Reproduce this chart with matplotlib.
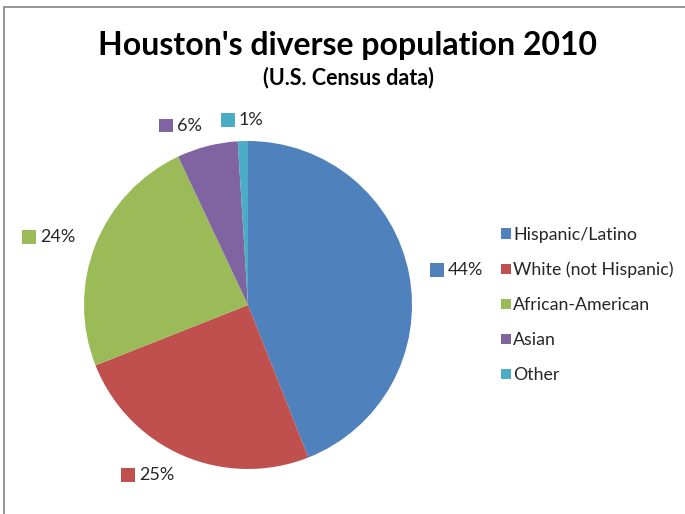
import numpy as np
import matplotlib
matplotlib.use("Agg")
import matplotlib.pyplot as plt
from matplotlib.patches import Patch, Rectangle
from matplotlib.offsetbox import AnnotationBbox, HPacker, TextArea, DrawingArea

plt.rcParams['font.family'] = ['Lato', 'DejaVu Sans']

groups = ["Hispanic/Latino", "White (not Hispanic)", "African-American", "Asian", "Other"]
shares = [44, 25, 24, 6, 1]
colors = ["#4F81BD", "#C0504D", "#9BBB59", "#8064A2", "#4BACC6"]

W, H = 685, 514
fig = plt.figure(figsize=(W / 100, H / 100), dpi=100)

# chart frame
fig.add_artist(Rectangle((4 / W, -0.1), 1.2, (H - 7) / H + 0.1, transform=fig.transFigure,
                         fill=False, edgecolor="#8c8c8c", linewidth=1.3))

fig.text(348 / W, 1 - 46 / H, "Houston's diverse population 2010", ha="center", va="center",
         fontsize=23, fontweight="bold", color="black")
fig.text(348 / W, 1 - 78 / H, "(U.S. Census data)", ha="center", va="center",
         fontsize=15.5, fontweight="bold", color="black")

cx, cy, r = 248, 305, 164
ax = fig.add_axes([(cx - r) / W, (H - cy - r) / H, 2 * r / W, 2 * r / H])
wedges, _ = ax.pie(shares, colors=colors, startangle=90, counterclock=False, radius=1,
                   wedgeprops=dict(linewidth=0))
ax.set_xlim(-1, 1)
ax.set_ylim(-1, 1)
ax.set_aspect("auto")
ax.axis("off")

# percentage labels with colour keys, placed just outside each wedge
for w, val, col in zip(wedges, shares, colors):
    mid = np.deg2rad((w.theta1 + w.theta2) / 2)
    x, y = 1.13 * np.cos(mid), 1.13 * np.sin(mid)
    da = DrawingArea(10, 10, 0, 0)
    da.add_artist(Rectangle((0, 0), 10, 10, facecolor=col, edgecolor="none"))
    ta = TextArea(f"{val}%", textprops=dict(fontsize=13, color="#262626"))
    box = HPacker(children=[da, ta], align="center", pad=0, sep=3)
    if abs(np.cos(mid)) < 0.1:
        align = (0.5, 0.5)
    elif np.cos(mid) > 0:
        align = (0.0, 0.5)
    else:
        align = (1.0, 0.5)
    ab = AnnotationBbox(box, (x, y), xycoords="data", box_alignment=align,
                        frameon=False, pad=0, annotation_clip=False)
    ax.add_artist(ab)

handles = [Patch(facecolor=c, edgecolor="none") for c in colors]
fig.legend(handles, groups, loc="center left", bbox_to_anchor=(485 / W, 1 - 305 / H),
           frameon=False, fontsize=12.8, handlelength=0.55, handleheight=0.55,
           handletextpad=0.15, labelspacing=1.07, labelcolor="#262626")

fig.savefig("out.png", dpi=100)
